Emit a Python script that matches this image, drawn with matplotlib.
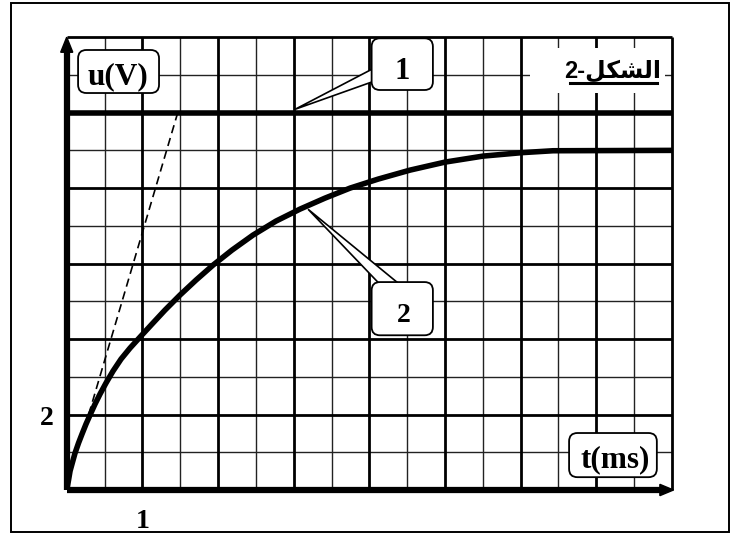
import numpy as np
import matplotlib.pyplot as plt
from matplotlib.patches import FancyBboxPatch, Polygon, Rectangle

# curve 1: constant voltage E (V)
E = 10.0
# curve 2: charging voltage, read point by point (t in ms, u in V)
t2 = [0, 0.024, 0.044, 0.077, 0.110, 0.156, 0.202, 0.255, 0.308, 0.374, 0.440,
      0.519, 0.612, 0.718, 0.837, 0.969, 1.127, 1.299, 1.497, 1.709, 1.934,
      2.185, 2.462, 2.766, 3.084, 3.414, 3.745, 4.115, 4.538, 5.000, 5.502,
      6.018, 6.428, 8.0]
u2 = [0, 0.265, 0.503, 0.742, 0.980, 1.245, 1.483, 1.748, 1.987, 2.278, 2.543,
      2.834, 3.152, 3.470, 3.762, 4.053, 4.397, 4.768, 5.166, 5.563, 5.960,
      6.358, 6.755, 7.126, 7.444, 7.735, 8.000, 8.238, 8.477, 8.689, 8.848,
      8.940, 8.990, 9.0]
# tangent at origin (dashed)
tan_t = [0.29, 1.46]
tan_u = [2.0, 9.95]

t_max, u_max = 8, 12
serif = "Liberation Serif"

fig = plt.figure(figsize=(7.39, 5.34), dpi=100)
fig.add_artist(Rectangle((0.0149, 0.0037), 0.9716, 0.9906, transform=fig.transFigure,
                         fill=False, lw=1.4, ec="black"))

ax = fig.add_axes([0.0903, 0.0824, 0.819, 0.848])
ax.set_xlim(0, t_max)
ax.set_ylim(0, u_max)
ax.axis("off")

# grid: thin every half ms / 1 V, thick every ms / 2 V
ax.vlines(np.arange(0.5, t_max, 1.0), 0, u_max, color="#222222", lw=1.0, zorder=1, clip_on=False)
ax.hlines(np.arange(1, u_max, 2), 0, t_max, color="#222222", lw=1.0, zorder=1, clip_on=False)
ax.vlines(np.arange(1, t_max + 1, 1), 0, u_max, color="black", lw=2.0, zorder=1, clip_on=False)
ax.hlines(np.arange(2, u_max + 1, 2), 0, t_max, color="black", lw=2.0, zorder=1, clip_on=False)

# white patch behind the figure title
ax.add_patch(Rectangle((6.13, 10.52), 1.78, 1.19, fc="white", ec="none", zorder=2))

# curves
ax.plot([0, t_max], [E, E], color="black", lw=4.0, zorder=3, solid_capstyle="butt")
ax.plot(t2, u2, color="black", lw=4.0, zorder=3, solid_joinstyle="round")
ax.plot(tan_t, tan_u, color="black", lw=1.2, ls=(0, (5, 3)), zorder=3)

# axes with arrow heads
ax.plot([0, 0], [0, 11.6], color="black", lw=4.5, zorder=4, clip_on=False, solid_capstyle="butt")
ax.plot([0, 7.84], [0, 0], color="black", lw=4.5, zorder=4, clip_on=False, solid_capstyle="butt")
ax.add_patch(Polygon([(-0.08, 11.6), (0, 12.0), (0.08, 11.6)], fc="black", ec="black",
                     zorder=4, clip_on=False))
ax.add_patch(Polygon([(7.84, -0.15), (8.02, 0), (7.84, 0.15)], fc="black", ec="black",
                     zorder=4, clip_on=False))


def box(x0, y0, w, h, label, tx, ty, size):
    ax.add_patch(FancyBboxPatch((x0, y0), w, h, boxstyle="round,pad=0,rounding_size=0.11",
                                mutation_aspect=2.0, fc="white", ec="black", lw=1.3,
                                zorder=6, clip_on=False))
    ax.text(tx, ty, label, ha="center", va="baseline", fontsize=size,
            fontweight="bold", family=serif, zorder=7)


# callout wedges
ax.add_patch(Polygon([(4.1, 11.22), (3.02, 10.09), (4.1, 10.86)], fc="white", ec="black",
                     lw=1.2, zorder=5))
ax.add_patch(Polygon([(4.14, 5.45), (3.19, 7.44), (4.40, 5.45)], fc="white", ec="black",
                     lw=1.2, zorder=5))

box(0.15, 10.52, 1.07, 1.14, "u(V)", 0.68, 10.76, 22.5)
box(6.64, 0.34, 1.16, 1.17, "t(ms)", 7.25, 0.60, 22.5)
box(4.03, 10.60, 0.81, 1.37, "1", 4.43, 10.88, 22)
box(4.03, 4.10, 0.81, 1.41, "2", 4.45, 4.44, 20)

# figure title (Arabic, presentation forms in visual order) with underline
ax.text(7.22, 10.94, "2-\ufede\ufedc\ufeb8\ufedf\u0627", ha="center", va="baseline",
        fontsize=17, fontweight="bold", family=["Liberation Sans", "DejaVu Sans"], zorder=7)
ax.plot([6.65, 7.80], [10.78, 10.78], color="black", lw=2.2, zorder=7)

# scale marks
ax.text(-0.267, 1.72, "2", ha="center", va="baseline", fontsize=20, fontweight="bold",
        family=serif, clip_on=False)
ax.text(1.01, -1.0, "1", ha="center", va="baseline", fontsize=20, fontweight="bold",
        family=serif, clip_on=False)

fig.savefig("out.png", dpi=100)
